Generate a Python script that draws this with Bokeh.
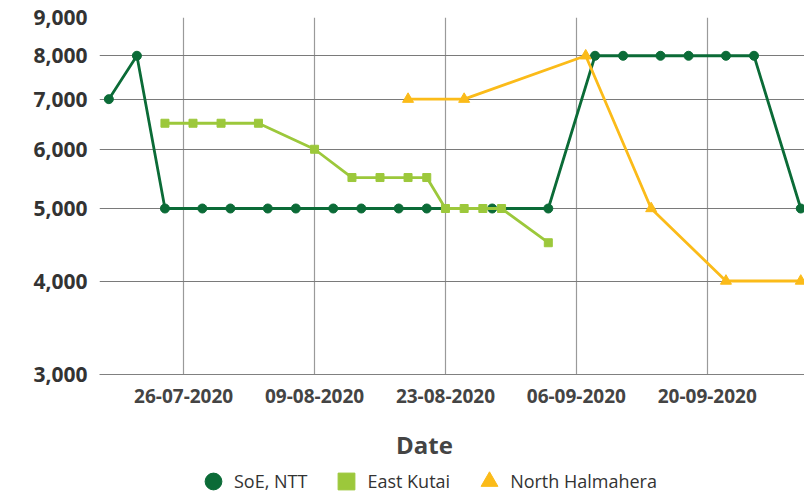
from datetime import datetime
from bokeh.plotting import figure
from bokeh.layouts import column
from bokeh.models import (FixedTicker, NumeralTickFormatter, DatetimeTickFormatter,
                          Range1d, Legend, LegendItem, Label)
from bokeh.embed import file_html
from bokeh.resources import INLINE

# ---- data ----
soe_dates = ["2020-07-18", "2020-07-21", "2020-07-24", "2020-07-28", "2020-07-31",
             "2020-08-04", "2020-08-07", "2020-08-11", "2020-08-14", "2020-08-18",
             "2020-08-21", "2020-08-28", "2020-09-03", "2020-09-08", "2020-09-11",
             "2020-09-15", "2020-09-18", "2020-09-22", "2020-09-25", "2020-09-30"]
soe_vals = [7000, 8000, 5000, 5000, 5000, 5000, 5000, 5000, 5000, 5000,
            5000, 5000, 5000, 8000, 8000, 8000, 8000, 8000, 8000, 5000]

kutai_dates = ["2020-07-24", "2020-07-27", "2020-07-30", "2020-08-03", "2020-08-09",
               "2020-08-13", "2020-08-16", "2020-08-19", "2020-08-21", "2020-08-23",
               "2020-08-25", "2020-08-27", "2020-08-29", "2020-09-03"]
kutai_vals = [6500, 6500, 6500, 6500, 6000, 5500, 5500, 5500, 5500, 5000,
              5000, 5000, 5000, 4500]

halm_dates = ["2020-08-19", "2020-08-25", "2020-09-07", "2020-09-14", "2020-09-22", "2020-09-30"]
halm_vals = [7000, 7000, 8000, 5000, 4000, 4000]

x_ticks = ["2020-07-26", "2020-08-09", "2020-08-23", "2020-09-06", "2020-09-20"]
y_ticks = [3000, 4000, 5000, 6000, 7000, 8000, 9000]

x_title = "Date"
series_names = ["SoE, NTT", "East Kutai", "North Halmahera"]
markers = ["circle", "square", "triangle"]
colors = ["#0b6b37", "#9cc83b", "#fbbb19"]


def to_dt(lst):
    return [datetime.strptime(s, "%Y-%m-%d") for s in lst]


def to_ms(s):
    return datetime.strptime(s, "%Y-%m-%d").timestamp() * 1000


FONT = "Open Sans"

p = figure(width=804, height=408, x_axis_type="datetime", y_axis_type="log",
           output_backend="svg", toolbar_location=None,
           min_border_left=99, min_border_right=0, min_border_top=17, min_border_bottom=34)
p.outline_line_color = None

day = 86400000
p.x_range = Range1d(to_ms("2020-07-17"), to_ms("2020-09-30") + 0.4 * day)
p.y_range = Range1d(3000, 9000)

# lines + markers
p.line(to_dt(soe_dates), soe_vals, color=colors[0], line_width=2.8)
p.scatter(to_dt(soe_dates), soe_vals, marker="circle", size=9, color=colors[0])
p.line(to_dt(kutai_dates), kutai_vals, color=colors[1], line_width=2.8)
p.scatter(to_dt(kutai_dates), kutai_vals, marker="square", size=8, color=colors[1])
p.line(to_dt(halm_dates), halm_vals, color=colors[2], line_width=2.8)
p.scatter(to_dt(halm_dates), halm_vals, marker="triangle", size=11, color=colors[2])

# axes
p.xaxis.ticker = FixedTicker(ticks=[to_ms(s) for s in x_ticks])
p.xaxis.formatter = DatetimeTickFormatter(days="%d-%m-%Y", months="%d-%m-%Y", years="%d-%m-%Y")
p.xaxis.axis_line_color = "#808080"
p.xaxis.major_tick_line_color = None
p.xaxis.minor_tick_line_color = None
p.xaxis.major_label_text_font = FONT
p.xaxis.major_label_text_font_style = "bold"
p.xaxis.major_label_text_font_size = "19px"
p.xaxis.major_label_text_color = "#444444"
p.xaxis.major_label_standoff = 8

p.yaxis.ticker = FixedTicker(ticks=y_ticks)
p.yaxis.formatter = NumeralTickFormatter(format="0,0")
p.yaxis.axis_line_color = None
p.yaxis.major_tick_line_color = None
p.yaxis.minor_tick_line_color = None
p.yaxis.major_label_text_font = FONT
p.yaxis.major_label_text_font_style = "bold"
p.yaxis.major_label_text_font_size = "21px"
p.yaxis.major_label_text_color = "#333333"
p.yaxis.major_label_standoff = 6

p.xgrid.grid_line_color = "#9a9a9a"
p.xgrid.grid_line_width = 1.2
p.ygrid.grid_line_color = "#7a7a7a"
p.ygrid.grid_line_width = 1.2
p.xgrid.minor_grid_line_color = None
p.ygrid.minor_grid_line_color = None

# strip below the chart: axis title + legend (ranges in pixels of this strip)
lg = figure(width=804, height=86, output_backend="svg", toolbar_location=None,
            x_axis_location=None, y_axis_location=None,
            min_border_left=0, min_border_right=0, min_border_top=0, min_border_bottom=0,
            x_range=Range1d(0, 705), y_range=Range1d(0, 86))
lg.outline_line_color = None
lg.grid.visible = False

lg.add_layout(Label(x=325, y=50, text=x_title, text_align="center", text_baseline="middle",
                    text_font=FONT, text_font_style="bold", text_font_size="24px",
                    text_color="#444444"))

items = []
for name, mk, c in zip(series_names, markers, colors):
    r = lg.scatter(x=[float("nan")], y=[float("nan")], marker=mk, color=c, size=10)
    items.append(LegendItem(label=name, renderers=[r]))

legend = Legend(items=items, orientation="horizontal", location=(93, -8),
                glyph_width=42, glyph_height=42, label_standoff=0, spacing=18,
                padding=0, margin=0, border_line_color=None, background_fill_alpha=0,
                label_text_font=FONT, label_text_font_size="18px", label_text_color="#333333")
lg.add_layout(legend, "center")

open("out.html", "w").write(file_html(column(p, lg, spacing=0), INLINE))
